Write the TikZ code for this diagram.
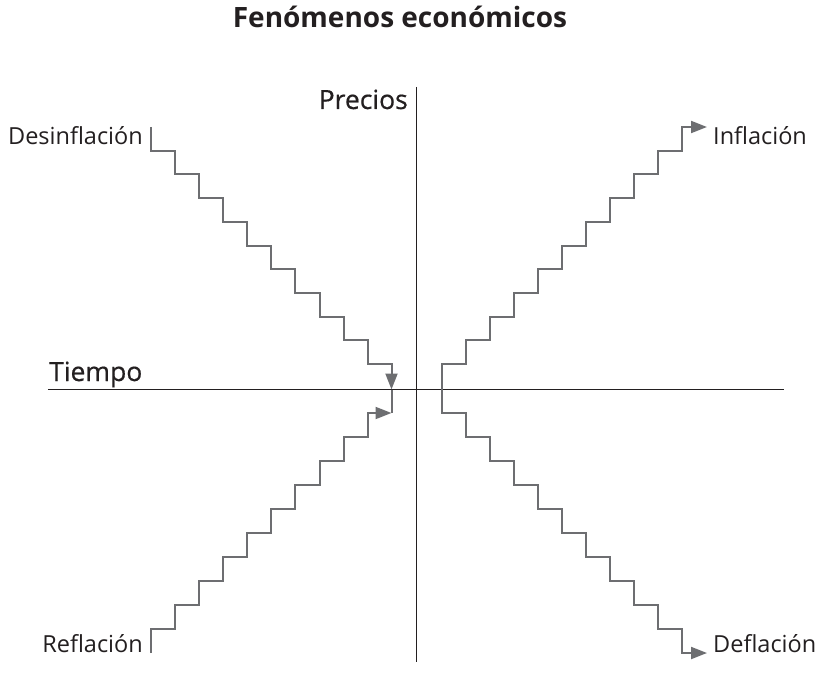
\documentclass[tikz,border=0pt]{standalone}
\usepackage{fontspec}
\setmainfont{Open Sans}
\newfontfamily\axisfont[FakeBold=0.5]{Open Sans}
\definecolor{axisLine}{HTML}{231F20}
\definecolor{stairGray}{HTML}{6D6E71}
\definecolor{textDark}{HTML}{231F20}
\usetikzlibrary{arrows.meta, positioning}
\tikzset{
  stairline/.style={draw=stairGray, line width=2pt, line join=miter},
  stairarrow/.style={stairline, -{Triangle[length=16pt, width=12pt]}},
  axisline/.style={draw=axisLine, line width=1.2pt},
  phase/.style={inner sep=0pt, text=textDark, font=\fontsize{23.5}{28}\selectfont},
  axislabel/.style={inner sep=0pt, text=textDark, font=\axisfont\fontsize{26.5}{30}\selectfont},
}

\begin{document}
\begin{tikzpicture}[x=1pt, y=1pt]
  \useasboundingbox (-416.5,-301.5) rectangle (401.5,389.5);

  % title
  \node[inner sep=0pt, anchor=base, text=textDark, font=\bfseries\fontsize{28}{32}\selectfont]
    (title) at (-16.5,361.5) {Fenómenos económicos};

  % axes
  \coordinate (O) at (0,0);
  \coordinate (pTop) at (0,302.5);
  \coordinate (pBot) at (0,-272.5);
  \coordinate (tLeft) at (-368.5,0);
  \coordinate (tRight) at (367.5,0);
  \draw[axisline] (pTop) -- (pBot);
  \draw[axisline] (tLeft) -- (tRight);
  \node[axislabel, anchor=base east] (precios) at (-8.5,280.5) {Precios};
  \node[axislabel, anchor=base west] (tiempo) at (-367.5,8.5) {Tiempo};

  % staircases
  \coordinate (desStart) at (-265,262.5);
  \coordinate (refStart) at (-265,-263.5);
  \coordinate (infStart) at (25.5,0);
  \coordinate (refEnd) at (-25,0);

  \draw[stairarrow] (desStart) \foreach \k in {1,...,10} { -- ++(0,-23.7) -- ++(24,0) } -- ++(0,-25.5);
  \draw[stairarrow] (refStart) \foreach \k in {1,...,10} { -- ++(0,24) -- ++(24,0) };
  \draw[stairline] (refEnd) -- ++(0,-23.5);
  \draw[stairarrow] (infStart) -- ++(0,25.5) \foreach \k in {1,...,10} { -- ++(24,0) -- ++(0,23.7) } -- ++(25,0);
  \draw[stairarrow] (infStart) -- ++(0,-23.5) \foreach \k in {1,...,10} { -- ++(24,0) -- ++(0,-24) } -- ++(25,0);

  % phase labels
  \node[phase, anchor=base east] (desinf) at (-273.5,244.5) {Desinflación};
  \node[phase, anchor=base west] (inf) at (296.5,244.5) {Inflación};
  \node[phase, anchor=base east] (reflac) at (-273.5,-262.5) {Reflación};
  \node[phase, anchor=base west] (deflac) at (296.5,-262.5) {Deflación};
\end{tikzpicture}
\end{document}
